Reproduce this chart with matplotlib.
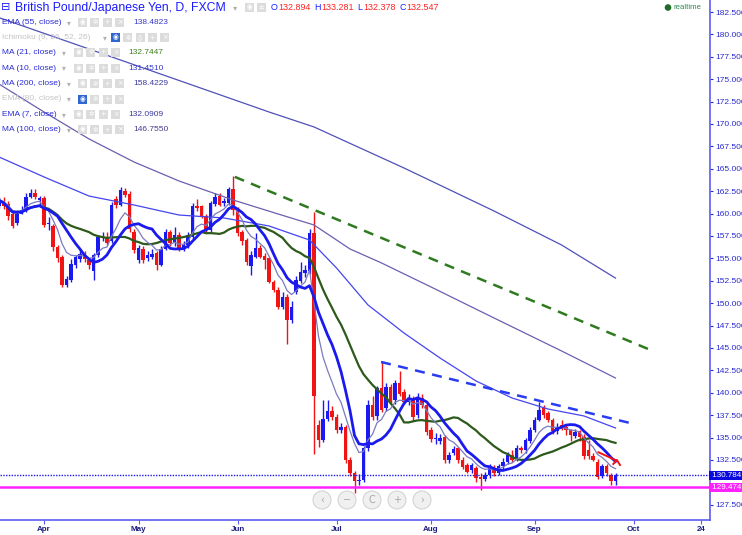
import numpy as np
import pandas as pd
import matplotlib
matplotlib.use('Agg')
import matplotlib.pyplot as plt
from matplotlib.patches import Circle, Rectangle
from matplotlib.transforms import blended_transform_factory

plt.rcParams['font.family'] = ['Liberation Sans', 'DejaVu Sans']

#### GBP/JPY daily candles
dates = pd.bdate_range('2016-03-18', '2016-09-27')
opens = [160.9, 161.3, 161.1, 159.9, 158.9, 160.0, 160.4, 161.9, 162.3, 161.5,
         161.7, 158.8, 158.6, 156.3, 155.2, 152.0, 152.6, 154.3, 154.9, 155.4,
         154.8, 153.6, 155.4, 157.3, 157.4, 156.9, 161.6, 161.0, 162.5, 162.2,
         158.0, 154.8, 156.1, 155.0, 155.1, 155.6, 154.3, 156.1, 158.0, 156.7,
         157.6, 156.2, 156.5, 157.4, 160.9, 160.8, 159.7, 158.2, 161.1, 162.0,
         161.2, 161.2, 162.8, 160.4, 158.0, 157.1, 154.1, 155.2, 156.2, 155.3,
         155.0, 152.4, 151.5, 149.6, 150.7, 148.1, 151.3, 152.5, 153.4, 153.6,
         157.8, 136.4, 134.7, 137.1, 138.0, 137.3, 135.8, 136.2, 132.5, 131.0,
         130.1, 130.3, 133.8, 138.6, 137.4, 140.5, 138.3, 140.7, 139.2, 141.1,
         140.1, 139.0, 139.2, 137.5, 139.4, 138.6, 135.9, 134.8, 134.6, 135.1,
         132.5, 133.3, 133.8, 132.5, 131.9, 131.4, 131.6, 130.6, 130.4, 130.8,
         131.6, 131.1, 131.8, 132.3, 133.1, 132.6, 133.8, 133.6, 134.6, 135.8,
         137.0, 138.3, 137.7, 137.0, 135.7, 136.4, 136.2, 135.9, 135.2, 135.7,
         135.1, 133.6, 132.894, 132.3, 130.7, 131.8, 130.8, 130.2]
highs = [161.8, 161.8, 161.4, 160.2, 160.4, 160.8, 162.3, 162.7, 162.7, 162.0,
         162.0, 159.6, 158.8, 156.5, 155.4, 153.0, 154.9, 155.4, 156.0, 155.8,
         155.0, 155.6, 157.6, 157.9, 158.0, 161.3, 162.0, 163.0, 162.9, 162.5,
         158.3, 156.5, 156.4, 155.8, 156.0, 155.8, 156.4, 158.3, 158.2, 158.5,
         157.9, 156.9, 157.9, 161.2, 161.6, 161.0, 159.9, 161.4, 162.3, 162.3,
         161.7, 163.0, 164.2, 160.7, 158.2, 157.3, 155.8, 157.8, 156.5, 155.6,
         155.2, 152.6, 151.8, 151.3, 151.0, 150.2, 153.0, 154.6, 154.3, 158.3,
         160.2, 137.0, 139.2, 139.2, 138.5, 137.6, 136.6, 136.4, 132.8, 131.3,
         130.9, 134.1, 139.2, 139.6, 140.8, 143.5, 141.1, 141.0, 141.4, 142.4,
         140.4, 139.9, 139.6, 140.0, 139.9, 138.9, 136.2, 135.5, 135.4, 135.3,
         133.4, 134.1, 134.0, 132.8, 132.2, 132.2, 131.8, 131.0, 131.2, 132.0,
         131.9, 132.1, 132.7, 133.4, 133.6, 134.2, 134.1, 135.0, 136.2, 137.3,
         139.0, 138.6, 138.0, 137.2, 136.6, 137.0, 136.5, 136.0, 136.0, 135.9,
         135.4, 134.7, 133.281, 132.6, 132.1, 132.1, 131.1, 131.0]
lows = [160.6, 160.5, 159.3, 158.4, 158.7, 159.9, 160.2, 161.7, 161.6, 160.9,
        158.5, 158.2, 155.8, 154.6, 151.8, 151.8, 152.4, 153.9, 154.6, 154.6,
        153.8, 152.6, 155.2, 156.9, 156.5, 156.7, 160.6, 160.9, 161.8, 157.9,
        155.6, 154.5, 154.5, 154.7, 154.9, 153.7, 154.1, 155.9, 156.4, 156.4,
        155.8, 155.8, 156.2, 157.2, 160.3, 159.5, 158.0, 158.0, 160.8, 160.8,
        160.9, 161.0, 159.8, 157.5, 156.5, 154.3, 153.2, 155.0, 155.0, 153.8,
        152.2, 151.2, 149.4, 149.4, 145.5, 147.8, 151.0, 152.3, 152.9, 153.3,
        133.2, 134.0, 134.5, 136.8, 137.0, 135.5, 135.5, 132.2, 130.7, 128.8,
        129.7, 130.0, 133.5, 137.0, 137.0, 137.9, 138.0, 138.7, 138.8, 139.6,
        138.7, 138.6, 136.9, 137.2, 138.3, 135.3, 134.5, 134.3, 134.3, 132.2,
        132.2, 133.0, 132.2, 131.5, 131.0, 131.1, 130.0, 129.2, 130.1, 130.5,
        130.7, 130.8, 131.5, 132.1, 132.3, 132.4, 133.3, 133.3, 134.4, 135.6,
        136.8, 137.2, 136.7, 135.4, 135.4, 135.8, 135.3, 134.6, 134.9, 134.6,
        132.6, 132.6, 132.378, 130.4, 130.5, 130.7, 129.7, 129.7]
closes = [161.5, 160.9, 159.7, 158.6, 160.0, 160.4, 161.9, 162.3, 161.8, 161.7,
          158.7, 159.0, 156.3, 155.0, 152.0, 152.7, 154.4, 155.1, 155.5, 154.9,
          154.3, 155.4, 157.4, 157.5, 156.7, 161.0, 161.0, 162.6, 162.1, 158.3,
          155.9, 156.2, 154.8, 155.4, 155.5, 154.3, 156.1, 158.0, 156.7, 157.6,
          156.0, 156.5, 157.6, 160.9, 160.6, 159.7, 158.2, 161.2, 161.9, 161.0,
          161.4, 162.8, 160.4, 157.8, 156.9, 154.6, 155.4, 156.2, 155.2, 154.8,
          152.4, 151.5, 149.6, 150.7, 148.1, 149.6, 152.6, 153.5, 153.7, 157.8,
          139.6, 134.7, 137.1, 138.0, 137.3, 135.8, 136.2, 132.5, 131.0, 130.1,
          130.3, 133.8, 138.6, 137.3, 140.5, 138.1, 140.7, 139.0, 141.1, 139.9,
          139.0, 139.4, 137.3, 139.4, 138.6, 135.6, 134.8, 135.0, 134.9, 132.5,
          133.1, 133.7, 132.5, 131.7, 131.2, 131.9, 130.5, 130.4, 130.8, 131.7,
          131.0, 131.8, 132.3, 133.1, 132.5, 133.8, 133.6, 134.7, 135.9, 137.0,
          138.1, 137.5, 137.0, 135.7, 136.2, 136.0, 135.8, 135.3, 135.6, 135.1,
          132.9, 132.9, 132.547, 130.6, 131.8, 131.0, 130.1, 130.784]

ma200_bar = [0, 20, 40, 60, 70, 90, 110, 125, 137]
ma200_val = [181.87, 178.37, 174.86, 171.34, 169.67, 165.09, 160.29, 156.5, 152.8]
ma100_bar = [0, 10, 20, 30, 40, 52, 62, 70, 78, 85, 96, 110, 125, 137]
ma100_val = [174.46, 171.34, 168.33, 165.76, 163.64, 161.52, 159.96, 158.73,
             156.05, 154.49, 151.81, 148.35, 144.67, 141.65]
ema55_bar = [0, 10, 20, 30, 40, 50, 60, 69, 75, 82, 90, 98, 106, 114, 122, 130, 137]
ema55_val = [166.32, 164.09, 161.96, 160.96, 159.84, 159.51, 158.62, 157.05, 153.93,
             149.80, 146.67, 143.88, 141.32, 139.42, 138.19, 137.41, 136.07]

# drawn trend lines (bar, price)
green_trend_bar = [52.4, 145.3]
green_trend_val = [164.1, 144.67]
blue_trend_bar = [84.9, 140.2]
blue_trend_val = [143.44, 136.63]
red_arrow_bar = [133.2, 137.2]
red_arrow_val = [133.36, 132.45]
red_head_bar = [136.5, 137.3, 138.0]
red_head_val = [132.05, 132.5, 131.94]

last_price = 130.784
support = 129.474

# 130.000 sits under the price boxes, so it is not labelled
price_ticks = [127.5, 132.5, 135.0, 137.5, 140.0, 142.5, 145.0, 147.5, 150.0, 152.5,
               155.0, 157.5, 160.0, 162.5, 165.0, 167.5, 170.0, 172.5, 175.0, 177.5,
               180.0, 182.5]

axis_days = pd.bdate_range('2016-03-18', '2016-10-31')
tick_dates = ['2016-04-01', '2016-05-02', '2016-06-01', '2016-07-01',
              '2016-08-01', '2016-09-01', '2016-10-03', '2016-10-24']
tick_labels = ['Apr', 'May', 'Jun', 'Jul', 'Aug', 'Sep', 'Oct', '24']

df = pd.DataFrame({'open': opens, 'high': highs, 'low': lows, 'close': closes}, index=dates)
ema7 = df['close'].ewm(span=7, adjust=False).mean()
ma10 = df['close'].rolling(10, min_periods=1).mean()
ma21 = df['close'].rolling(21, min_periods=1).mean()
x = np.arange(len(df))

fig = plt.figure(figsize=(7.42, 5.35), dpi=100)
ax = fig.add_axes([0, 15 / 535, 710 / 742, 520 / 535])
ax.set_xlim(0.22, 158.0)
ax.set_ylim(125.80, 183.84)

up = df['close'] >= df['open']
col = np.where(up, '#1a1af0', '#f01414')
ax.vlines(x, df['low'], df['high'], colors=col, lw=1, zorder=2)
body = (df['close'] - df['open']).abs().clip(lower=0.08)
ax.bar(x, body, bottom=df[['open', 'close']].min(axis=1), width=0.74, color=col, zorder=2)

ax.plot(ma200_bar, ma200_val, color='#5050b8', lw=0.9, zorder=3)
ax.plot(ma100_bar, ma100_val, color='#6a5fb0', lw=0.9, zorder=3)
ax.plot(ema55_bar, ema55_val, color='#4545f0', lw=0.9, zorder=3)
ax.plot(x, ma21, color='#2d5a1b', lw=1.6, zorder=3)
ax.plot(x, ema7, color='#7a7abf', lw=0.9, zorder=3)
ax.plot(x, ma10, color='#1a1aee', lw=2.0, zorder=3)

ax.plot(green_trend_bar, green_trend_val, color='#2f7a1f', lw=1.8, ls=(0, (4, 3)), zorder=4)
ax.plot(blue_trend_bar, blue_trend_val, color='#2a3cf0', lw=1.8, ls=(0, (4, 3)), zorder=4)
ax.plot(red_arrow_bar, red_arrow_val, color='#f01414', lw=1.4, zorder=4)
ax.plot(red_head_bar, red_head_val, color='#f01414', lw=1.4, zorder=4)

ax.axhline(last_price, color='#1a1aee', lw=1, ls=(0, (1, 1)), zorder=4)
ax.axhline(support, color='#ff22ff', lw=1.8, zorder=4)

# axes styling
for s in ['left', 'top']:
    ax.spines[s].set_visible(False)
for s in ['right', 'bottom']:
    ax.spines[s].set_color('#5c5cf0')
    ax.spines[s].set_linewidth(1.2)
ax.yaxis.tick_right()
ax.set_yticks(price_ticks)
ax.set_yticklabels(['%.3f' % v for v in price_ticks])
ax.tick_params(axis='y', labelsize=6, colors='#2a2ad0', length=2.5, pad=1.5)
tick_pos = [axis_days.get_loc(pd.Timestamp(d)) for d in tick_dates]
ax.set_xticks(tick_pos)
ax.set_xticklabels(tick_labels, fontweight='bold')
ax.tick_params(axis='x', labelsize=5.8, colors='#1a1a80', length=3, pad=1.5)
ax.tick_params(axis='x', color='#5c5cf0')

tr = blended_transform_factory(ax.transAxes, ax.transData)
ax.text(1.0, last_price, ' 130.784  ', transform=tr, ha='left', va='center', fontsize=5.8,
        color='white', clip_on=False, zorder=6,
        bbox=dict(facecolor='#0a0ae0', edgecolor='none', pad=0.7))
ax.text(1.0, support, ' 129.474  ', transform=tr, ha='left', va='center', fontsize=5.8,
        color='white', clip_on=False, zorder=6,
        bbox=dict(facecolor='#ff22ff', edgecolor='none', pad=0.7))

#### overlay in pixel coords for header, legend, buttons
ui = fig.add_axes([0, 0, 1, 1], zorder=10)
ui.set_xlim(0, 742)
ui.set_ylim(535, 0)
ui.axis('off')
ui.patch.set_alpha(0)

def icon(px, py, fc, sym):
    ui.add_patch(Rectangle((px, py - 4.5), 9, 9, facecolor=fc, edgecolor='none'))
    ui.text(px + 4.5, py, sym, color='white', fontsize=4.8, ha='center', va='center',
            family=['DejaVu Sans'])

ui.text(1, 7.5, '⊟', color='#1a1aff', fontsize=8, ha='left', va='center', family=['DejaVu Sans'])
ui.text(15, 7.5, 'British Pound/Japanese Yen, D, FXCM', color='#1a1aff', fontsize=8.8,
        ha='left', va='center')
ui.text(233, 7.5, '▾', color='#b0b0b0', fontsize=6, ha='left', va='center', family=['DejaVu Sans'])
icon(245, 7.5, '#dcdcdc', '◉')
icon(257, 7.5, '#dcdcdc', '✲')
hdr = [('O', 271, '132.894', 278), ('H', 314, '133.281', 321),
       ('L', 357, '132.378', 363), ('C', 399, '132.547', 406)]
for lab, lx, val, vx in hdr:
    ui.text(lx, 7.5, lab, color='#1a1aff', fontsize=6.4, ha='left', va='center')
    ui.text(vx, 7.5, val, color='#ff2020', fontsize=6.4, ha='left', va='center')

gray = '#dcdcdc'
rows = [
    (22.5, 'EMA (55, close)', '#2b2bd8', 67, 78, ['◉', '✲', '+', '×'], gray, '138.4823', '#3a3acc', 133),
    (37.5, 'Ichimoku (9, 26, 52, 26)', '#c4c4c4', 103, 111, ['◉', '✲', '()', '+', '×'], None, '', '', 0),
    (52.5, 'MA (21, close)', '#2b2bd8', 62, 74, ['◉', '✲', '+', '×'], gray, '132.7447', '#3f7f22', 128),
    (68.0, 'MA (10, close)', '#2b2bd8', 62, 74, ['◉', '✲', '+', '×'], gray, '131.4510', '#3a3acc', 128),
    (83.5, 'MA (200, close)', '#2b2bd8', 67, 78, ['◉', '✲', '+', '×'], gray, '158.4229', '#3a3aa0', 133),
    (99.0, 'EMA (80, close)', '#c4c4c4', 67, 78, ['◉', '✲', '+', '×'], None, '', '', 0),
    (114.5, 'EMA (7, close)', '#2b2bd8', 62, 74, ['◉', '✲', '+', '×'], gray, '132.0909', '#3a3aa0', 128),
    (129.5, 'MA (100, close)', '#2b2bd8', 67, 78, ['◉', '✲', '+', '×'], gray, '146.7550', '#4a3a8c', 133),
]
for ry, lab, lc, arx, icx, syms, first, val, vc, vx in rows:
    ui.text(2, ry, lab, color=lc, fontsize=6, ha='left', va='center')
    ui.text(arx, ry, '▾', color='#b0b0b0', fontsize=5.5, ha='left', va='center', family=['DejaVu Sans'])
    for n, s in enumerate(syms):
        fc = gray
        if n == 0 and first is None:
            fc = '#2f66d0'
        icon(icx + 12.3 * n, ry, fc, s)
    if val:
        ui.text(vx, ry, val, color=vc, fontsize=6, ha='left', va='center')

ui.add_patch(Circle((668, 7.5), 2.6, color='#1e6b2a'))
ui.text(673, 7.5, 'realtime', color='#2e8b4e', fontsize=5.6, ha='left', va='center')

for bx, sym in zip([322, 347, 372, 397, 422], ['‹', '−', 'C', '+', '›']):
    ui.add_patch(Circle((bx, 500), 9, facecolor='#f0f0f0', edgecolor='#d4d4d4', lw=0.8))
    ui.text(bx, 500, sym, color='#a8a8a8', fontsize=7, ha='center', va='center',
            family=['DejaVu Sans'])

fig.savefig('out.png', dpi=100)
